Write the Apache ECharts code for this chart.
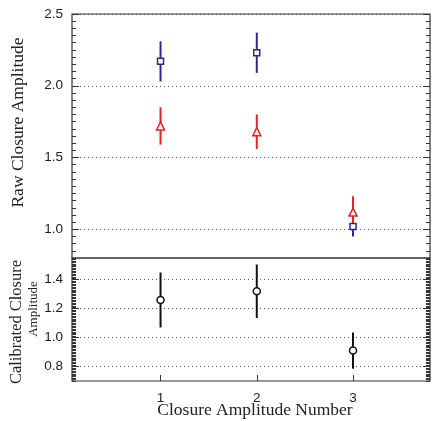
<!DOCTYPE html>
<html><head><meta charset="utf-8">
<script src="https://cdn.jsdelivr.net/npm/echarts@6/dist/echarts.min.js"></script>
<style>html,body{margin:0;padding:0;background:#fff}#c{width:439px;height:421px}</style>
</head><body><div id="c"></div>
<script>
// ---- data ----
const closureNumbers = [1, 2, 3];
const rawBlue = [2.17, 2.23, 1.02];
const rawBlueErr = [0.14, 0.14, 0.07];
const rawRed = [1.72, 1.68, 1.12];
const rawRedErr = [0.13, 0.12, 0.11];
const calibrated = [1.26, 1.32, 0.91];
const calibratedErr = [0.19, 0.185, 0.125];
const topTicks = [1.0, 1.5, 2.0, 2.5];
const bottomTicks = [0.8, 1.0, 1.2, 1.4];
const xTicks = [1, 2, 3];
const titles = {raw: 'Raw Closure Amplitude', cal1: 'Calibrated Closure', cal2: 'Amplitude', x: 'Closure Amplitude Number'};

const BLUE = '#2e2a8c', RED = '#ee1c24', BLACK = '#111';
const FRAME = '#333';
const labelFont = {fontFamily: 'Liberation Sans', fontSize: 13.5, color: '#222'};
const SERIF = '"Liberation Serif"';

function errData(vals, errs) { return closureNumbers.map((x, i) => [x, vals[i] - errs[i], vals[i] + errs[i]]); }
function ptData(vals) { return closureNumbers.map((x, i) => [x, vals[i]]); }
function errSeries(vals, errs, color, gi) {
  return {
    type: 'custom', xAxisIndex: gi, yAxisIndex: gi * 4, data: errData(vals, errs),
    encode: {x: 0, y: [1, 2]}, silent: true, z: 2,
    renderItem(params, api) {
      const a = api.coord([api.value(0), api.value(1)]);
      const b = api.coord([api.value(0), api.value(2)]);
      return {type: 'line', shape: {x1: a[0], y1: a[1], x2: b[0], y2: b[1]}, style: {stroke: color, lineWidth: 2}};
    }
  };
}
function markSeries(vals, color, symbol, size, gi, z) {
  return {
    type: 'scatter', xAxisIndex: gi, yAxisIndex: gi * 4, data: ptData(vals), symbol, symbolSize: size, z: z,
    itemStyle: {color: '#fff', borderColor: color, borderWidth: 1.5, opacity: 1}, silent: true
  };
}
function yAxes(gi, min, max, minorInt, majors) {
  const base = {gridIndex: gi, type: 'value', min, max, axisLine: {show: false}};
  return [
    Object.assign({}, base, {
      position: 'left',
      axisLabel: Object.assign({customValues: majors, margin: 9, formatter: v => (+v).toFixed(1)}, labelFont),
      axisTick: {show: true, customValues: majors, inside: true, length: 7, lineStyle: {color: FRAME}},
      splitLine: {show: true, lineStyle: {color: '#555', type: [1, 3], width: 1}}
    }),
    Object.assign({}, base, {position: 'left', interval: minorInt, axisLabel: {show: false},
      axisTick: {show: true, inside: true, length: 4, lineStyle: {color: FRAME}}, splitLine: {show: false}}),
    Object.assign({}, base, {position: 'right', axisLabel: {show: false},
      axisTick: {show: true, customValues: majors, inside: true, length: 7, lineStyle: {color: FRAME}}, splitLine: {show: false}}),
    Object.assign({}, base, {position: 'right', interval: minorInt, axisLabel: {show: false},
      axisTick: {show: true, inside: true, length: 4, lineStyle: {color: FRAME}}, splitLine: {show: false}})
  ];
}

const chart = echarts.init(document.getElementById('c'), null, {renderer: 'canvas'});
chart.setOption({
  animation: false,
  backgroundColor: '#fff',
  grid: [
    {left: 72, right: 9, top: 14, height: 244, show: true, borderColor: FRAME, borderWidth: 1.2, backgroundColor: 'transparent'},
    {left: 72, right: 9, top: 258, height: 123, show: true, borderColor: FRAME, borderWidth: 1.2, backgroundColor: 'transparent'}
  ],
  xAxis: [
    {gridIndex: 0, type: 'value', min: 0.08, max: 3.8, show: false},
    {gridIndex: 1, type: 'value', min: 0.08, max: 3.8, axisLine: {show: false},
      axisLabel: Object.assign({customValues: xTicks, margin: 10}, labelFont),
      axisTick: {show: true, customValues: xTicks, inside: true, length: 6, lineStyle: {color: FRAME}},
      splitLine: {show: false}}
  ],
  yAxis: [].concat(
    yAxes(0, 0.8, 2.5, 0.05, topTicks),
    yAxes(1, 0.7, 1.55, 0.01, bottomTicks)
  ),
  graphic: [
    {type: 'text', x: 18, y: 122.5, rotation: Math.PI / 2, silent: true,
      style: {text: titles.raw, font: '17.5px ' + SERIF, fill: '#222', align: 'center', verticalAlign: 'middle'}},
    {type: 'text', x: 17, y: 322, rotation: Math.PI / 2, silent: true,
      style: {text: titles.cal1, font: '16.5px ' + SERIF, fill: '#222', align: 'center', verticalAlign: 'middle'}},
    {type: 'text', x: 34, y: 309, rotation: Math.PI / 2, silent: true,
      style: {text: titles.cal2, font: '13px ' + SERIF, fill: '#222', align: 'center', verticalAlign: 'middle'}},
    {type: 'text', x: 255, y: 410, silent: true,
      style: {text: titles.x, font: '17.5px ' + SERIF, fill: '#222', align: 'center', verticalAlign: 'middle'}}
  ],
  series: [
    errSeries(rawBlue, rawBlueErr, BLUE, 0),
    markSeries(rawBlue, BLUE, 'rect', 6, 0, 3),
    errSeries(rawRed, rawRedErr, RED, 0),
    markSeries(rawRed, RED, 'triangle', 8, 0, 4),
    errSeries(calibrated, calibratedErr, BLACK, 1),
    markSeries(calibrated, BLACK, 'circle', 7, 1, 3)
  ]
});
</script></body></html>
